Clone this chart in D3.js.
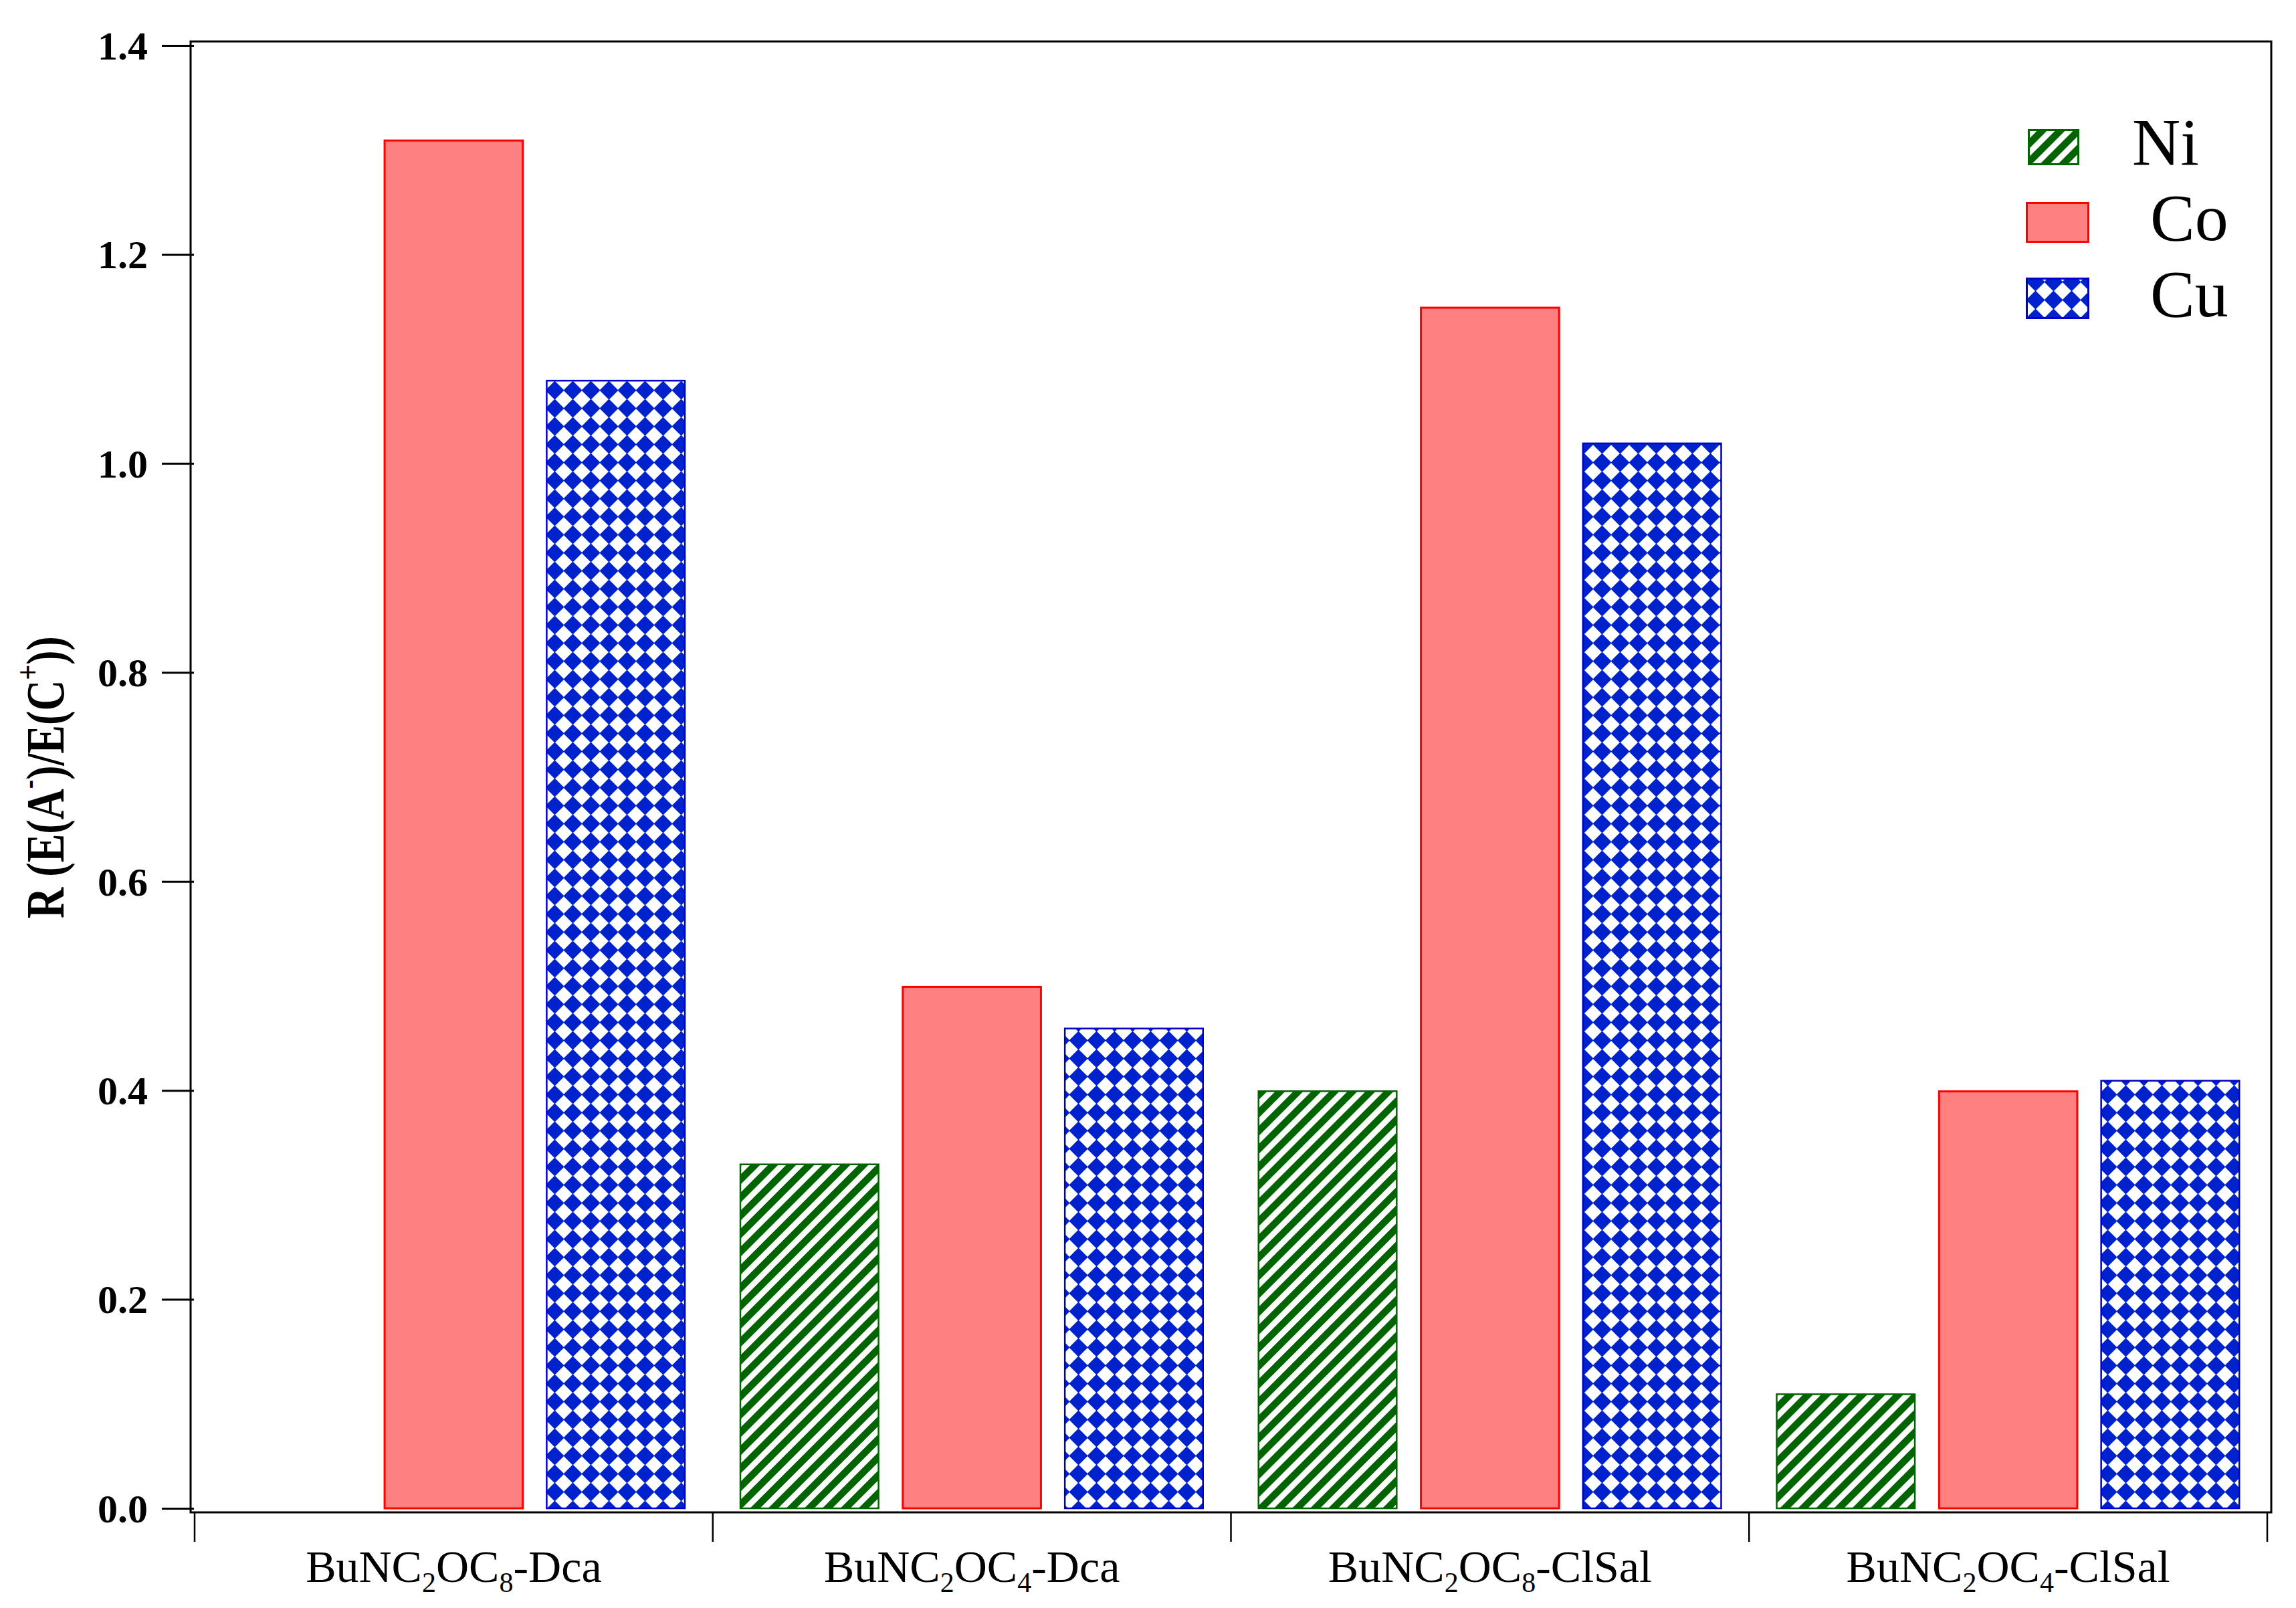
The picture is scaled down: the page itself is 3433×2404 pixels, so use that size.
<!DOCTYPE html>
<html>
<head>
<meta charset="utf-8">
<script src="https://cdn.jsdelivr.net/npm/d3@7"></script>
<style>
  html, body { margin: 0; padding: 0; background: #fff; }
  svg { display: block; }
</style>
</head>
<body>
<div id="chart"></div>
<script>
// ---------- data ----------
const categories = ["BuNC2OC8-Dca", "BuNC2OC4-Dca", "BuNC2OC8-ClSal", "BuNC2OC4-ClSal"];
const seriesNames = ["Ni", "Co", "Cu"];
const niValues = [0, 0.33, 0.40, 0.11];
const coValues = [1.31, 0.50, 1.15, 0.40];
const cuValues = [1.08, 0.46, 1.02, 0.41];
const yTickValues = [0, 0.2, 0.4, 0.6, 0.8, 1.0, 1.2, 1.4];

const W = 3433, H = 2404;
const FONT = "'Liberation Serif', 'Times New Roman', serif";

const svg = d3.select("#chart").append("svg")
  .attr("width", W).attr("height", H)
  .attr("viewBox", `0 0 ${W} ${H}`);

// ---------- patterns ----------
const defs = svg.append("defs");
const stripes = defs.append("pattern")
  .attr("id", "niStripes")
  .attr("patternUnits", "userSpaceOnUse")
  .attr("width", 19.1).attr("height", 19.1)
  .attr("patternTransform", "rotate(45)");
stripes.append("rect").attr("width", 19.1).attr("height", 19.1).attr("fill", "#fff");
stripes.append("rect").attr("x", 0).attr("width", 10.5).attr("height", 19.1).attr("fill", "#006400");

const diam = defs.append("pattern")
  .attr("id", "cuDiamonds")
  .attr("patternUnits", "userSpaceOnUse")
  .attr("x", 6).attr("y", 3)
  .attr("width", 27).attr("height", 27);
diam.append("rect").attr("width", 27).attr("height", 27).attr("fill", "#fff");
diam.append("path")
  .attr("d", "M13.5,1.5 L25.5,13.5 L13.5,25.5 L1.5,13.5 Z")
  .attr("fill", "#0022CC").attr("stroke", "#0022CC")
  .attr("stroke-width", 3).attr("stroke-linejoin", "round");

const fills = { Ni: "url(#niStripes)", Co: "#FF8080", Cu: "url(#cuDiamonds)" };
const strokes = { Ni: "#006400", Co: "#FF0000", Cu: "#0000CC" };
const strokeW = { Ni: 2.5, Co: 3, Cu: 2.5 };
const valuesBySeries = { Ni: niValues, Co: coValues, Cu: cuValues };

// ---------- scales ----------
const x0 = d3.scaleBand().domain(categories).range([291, 3390]).paddingInner(0).paddingOuter(0);
const x1 = d3.scaleBand().domain(seriesNames).range([40, x0.bandwidth() - 40]).paddingInner(0.136).paddingOuter(0);
const y = d3.scaleLinear().domain([0, 1.4]).range([2255, 68]);

// ---------- bars ----------
const barData = [];
categories.forEach((c, i) => {
  seriesNames.forEach(s => {
    barData.push({ cat: c, series: s, value: valuesBySeries[s][i] });
  });
});

svg.append("g").selectAll("rect")
  .data(barData.filter(d => d.value > 0))
  .join("rect")
  .attr("x", d => x0(d.cat) + x1(d.series) + strokeW[d.series] / 2)
  .attr("y", d => y(d.value) + strokeW[d.series] / 2)
  .attr("width", x1.bandwidth() - strokeW.Co)
  .attr("height", d => y(0) - y(d.value) - strokeW[d.series] / 2)
  .attr("fill", d => fills[d.series])
  .attr("stroke", d => strokes[d.series])
  .attr("stroke-width", d => strokeW[d.series]);

// ---------- frame ----------
svg.append("rect")
  .attr("x", 285).attr("y", 62)
  .attr("width", 3396 - 285).attr("height", 2261 - 62)
  .attr("fill", "none").attr("stroke", "#000").attr("stroke-width", 3);

// ---------- y axis ----------
const yAxis = d3.axisLeft(y)
  .tickValues(yTickValues)
  .tickFormat(d3.format(".1f"))
  .tickSizeInner(48).tickSizeOuter(0).tickPadding(21);
const gy = svg.append("g").attr("transform", "translate(290,0)").call(yAxis);
gy.select(".domain").remove();
gy.selectAll(".tick line").attr("stroke", "#000").attr("stroke-width", 3);
gy.selectAll(".tick text")
  .attr("font-family", FONT).attr("font-weight", "bold")
  .attr("font-size", 60).attr("fill", "#000").attr("dy", "0.34em");

// ---------- x axis ticks (band boundaries) ----------
const boundaries = categories.map(c => x0(c)).concat([x0(categories[categories.length - 1]) + x0.bandwidth()]);
svg.append("g").selectAll("line")
  .data(boundaries)
  .join("line")
  .attr("x1", d => d).attr("x2", d => d)
  .attr("y1", 2261).attr("y2", 2305)
  .attr("stroke", "#000").attr("stroke-width", 2.5);

// ---------- x labels with subscripts ----------
const xl = svg.append("g");
categories.forEach(c => {
  const t = xl.append("text")
    .attr("x", x0(c) + x0.bandwidth() / 2)
    .attr("y", 2365)
    .attr("text-anchor", "middle")
    .attr("font-family", FONT)
    .attr("font-size", 68)
    .attr("fill", "#000");
  const parts = c.split(/(\d)/).filter(p => p.length);
  let shifted = false;
  parts.forEach(p => {
    if (/^\d$/.test(p)) {
      t.append("tspan").attr("font-size", 42).attr("dy", shifted ? 0 : 15).text(p);
      shifted = true;
    } else {
      t.append("tspan").attr("dy", shifted ? -15 : 0).text(p);
      shifted = false;
    }
  });
});

// ---------- y title ----------
const title = svg.append("text")
  .attr("transform", "translate(95,1162) rotate(-90) scale(1,1.24)")
  .attr("text-anchor", "middle")
  .attr("font-family", FONT).attr("font-weight", "bold")
  .attr("font-size", 64).attr("fill", "#000");
title.append("tspan").text("R (E(A");
title.append("tspan").attr("font-size", 40).attr("dy", -30).text("-");
title.append("tspan").attr("dy", 30).text(")/E(C");
title.append("tspan").attr("font-size", 40).attr("dy", -30).text("+");
title.append("tspan").attr("dy", 30).text("))");

// ---------- legend ----------
const legendItems = [
  { name: "Ni", sx: 3032, sy: 193, sw: 77, sh: 54, tx: 3188, ty: 246 },
  { name: "Co", sx: 3029, sy: 302, sw: 95, sh: 61, tx: 3215, ty: 359 },
  { name: "Cu", sx: 3029, sy: 415, sw: 95, sh: 62, tx: 3215, ty: 473 }
];
const lg = svg.append("g");
lg.selectAll("rect").data(legendItems).join("rect")
  .attr("x", d => d.sx + 1.5).attr("y", d => d.sy + 1.5)
  .attr("width", d => d.sw - 3).attr("height", d => d.sh - 3)
  .attr("fill", d => fills[d.name]).attr("stroke", d => strokes[d.name])
  .attr("stroke-width", 3);
lg.selectAll("text").data(legendItems).join("text")
  .attr("x", d => d.tx).attr("y", d => d.ty)
  .attr("font-family", FONT).attr("font-size", 100).attr("fill", "#000")
  .text(d => d.name);
</script>
</body>
</html>
